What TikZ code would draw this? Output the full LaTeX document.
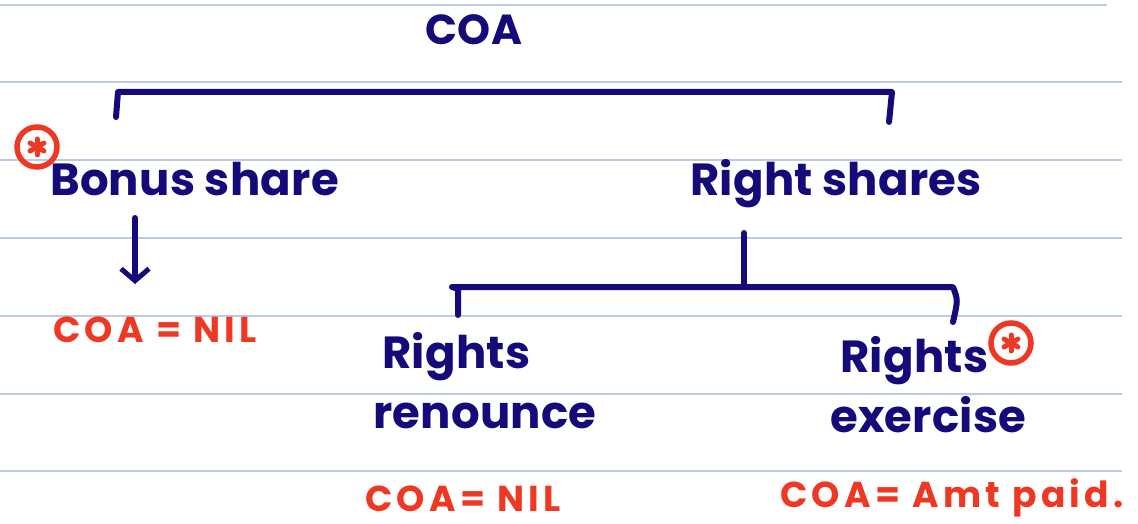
\documentclass[tikz,border=0pt]{standalone}
\usepackage{fontspec}
\setmainfont{Poppins}
\newfontfamily\handfont[LetterSpace=0.5]{Poppins}
\newfontfamily\notefont[LetterSpace=12]{Poppins}
\usetikzlibrary{arrows.meta}
\definecolor{ink}{HTML}{140A7A}
\definecolor{redink}{HTML}{EE3824}
\definecolor{rulecol}{HTML}{BCCBE3}
\begin{document}
\begin{tikzpicture}[x=1pt,y=-1pt,
  ruling/.style={draw=rulecol,line width=1.3pt},
  pen/.style={draw=ink,line width=6pt,line cap=round,line join=round},
  label/.style={text=ink,inner sep=0pt,anchor=base west,
    font=\handfont\fontsize{45}{54}\selectfont\bfseries},
  note/.style={text=redink,inner sep=0pt,anchor=base west,
    font=\notefont\fontsize{36}{42}\selectfont\bfseries},
  starmark/.style={circle,draw=redink,line width=5.5pt,inner sep=0pt,minimum size=40pt},
  starstroke/.style={draw=redink,line width=5pt,line cap=round}]
  % page background and ruling
  \fill[white] (0,0) rectangle (1138,524);
  \useasboundingbox (0,0) rectangle (1138,524);
  \draw[ruling] (0,5) -- (1107,5);
  \foreach \y in {82,160,238,316,394,471}
    \draw[ruling] (0,\y) -- (1122,\y);

  % headings
  \node[label,anchor=center,font=\handfont\fontsize{42}{50}\selectfont\bfseries]
    (coa) at (474,30) {COA};
  \node[label] (bonus) at (50,196) {Bonus share};
  \node[label] (right) at (690,195) {Right shares};
  \node[label] (rights1) at (382,368) {Rights};
  \node[label] (renounce) at (373,428) {renounce};
  \node[label] (rights2) at (840,372) {Rights};
  \node[label] (exercise) at (830,432) {exercise};

  % red results
  \node[note] (nil1) at (53,342) {COA = NIL};
  \node[note] (nil2) at (365,511) {COA= NIL};
  \node[note] (amt) at (780,507) {COA= Amt paid.};

  % circled asterisks
  \node[starmark] (star1) at (37,147) {};
  \node[starmark] (star2) at (1011,343) {};
  \foreach \s in {star1,star2}
    \foreach \a in {90,30,150}
      \draw[starstroke] (\s.center) ++(\a:8) -- ++(\a+180:16);

  % top bracket under COA
  \coordinate (tl) at (118,92);
  \coordinate (tr) at (892,92);
  \coordinate (tlend) at (116,117);
  \coordinate (trend) at (889,122);
  \draw[pen] (tlend) -- (tl) -- (tr) -- (trend);

  % bonus share result
  \coordinate (bs) at (135,218);
  \coordinate (be) at (135,284);
  \draw[pen,-{Straight Barb[length=12pt,width=28pt,line width=5pt]}] (bs) -- (be);

  % rights split
  \coordinate (rs) at (744,233);
  \coordinate (rm) at (744,287);
  \coordinate (rl) at (452,287);
  \coordinate (rr) at (953,287);
  \coordinate (rlend) at (458,315);
  \coordinate (rrend) at (953,322);
  \draw[pen] (rs) -- (rm);
  \draw[pen] (rlend) -- (458,289) -- (rl) -- (rr)
    .. controls (958,300) .. (rrend);
\end{tikzpicture}
\end{document}
